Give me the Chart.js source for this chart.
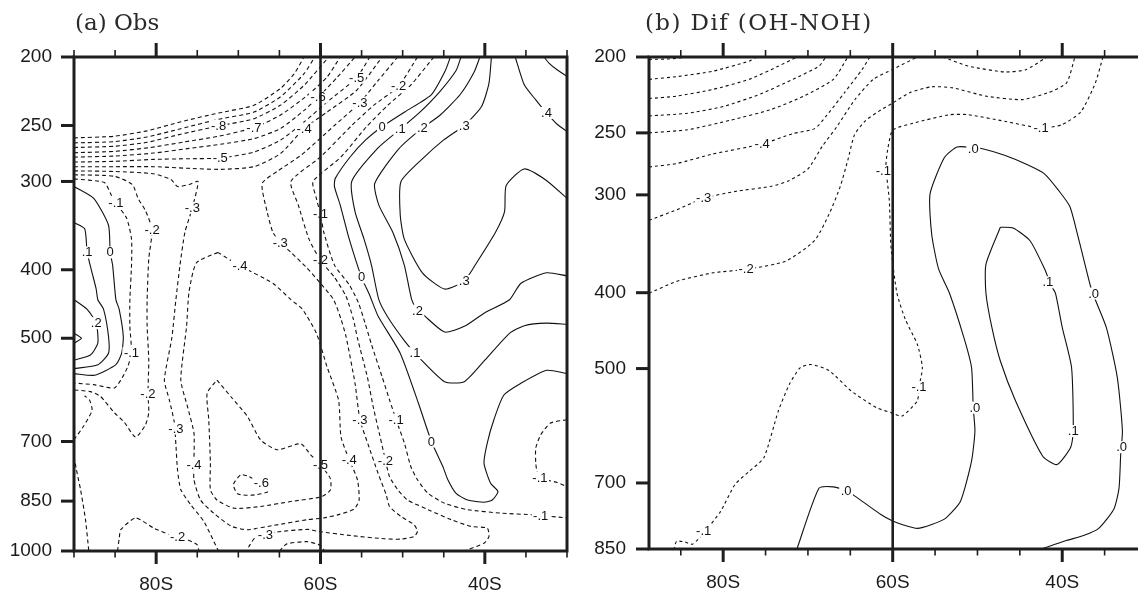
<!DOCTYPE html>
<html lang="en">
<head>
<meta charset="UTF-8">
<title>Zonal mean cross sections</title>
<script src="https://cdn.jsdelivr.net/npm/chart.js"></script>
<style>
  html, body { margin: 0; padding: 0; background: #fff; overflow: hidden; }
  #wrap { position: relative; width: 1138px; height: 594px; overflow: hidden; }
  canvas { position: absolute; top: 0; }
  #obsChart { left: 0; }
  #difChart { left: 580px; }
  .ttl { position: absolute; top: 11px; font-family: 'DejaVu Serif', serif; font-size: 23px; line-height: 23px; color: #2a2a2a; white-space: nowrap; }
</style>
</head>
<body>
<div id="wrap">
  <canvas id="obsChart" width="580" height="594"></canvas>
  <canvas id="difChart" width="580" height="594"></canvas>
  <div class="ttl" style="left:75px;">(a) Obs</div>
  <div class="ttl" style="left:645px; letter-spacing:1.4px;">(b) Dif (OH-NOH)</div>
</div>
<script>
// axis values
const latLabelTicks = [-80, -60, -40];
const obsPressureTicks = [200, 250, 300, 400, 500, 700, 850, 1000];
const difPressureTicks = [200, 250, 300, 400, 500, 700, 850];

// (a) Obs contours, [latitude, hPa]; negative levels dashed
const obsM10 = [[-90,260.3],[-85.1,258.9],[-81.1,254.4],[-77,247],[-72.4,240],[-68.1,234.1],[-64.9,221.7],[-63.2,211.2],[-62,200]];
const obsM09 = [[-90,264.6],[-85.1,263.5],[-81.1,259.5],[-77,252.6],[-72.4,245],[-68.1,239.3],[-64.9,227.8],[-62,211.2],[-60.7,200]];
const obsM08 = [[-90,268.6],[-85.1,267.5],[-81.1,264.1],[-77,257.2],[-72.4,250.4],[-68.1,244.5],[-64.9,234.1],[-62,219.3],[-59,200]];
const obsM07 = [[-90,273.2],[-85.1,272],[-80.7,268.6],[-76.6,263.8],[-72.4,258.9],[-68.1,251.8],[-64.9,241.8],[-61.6,226.6],[-59.2,213.5],[-57.6,200]];
const obsM06 = [[-90,277.1],[-85.1,276.2],[-80.3,273.5],[-76.2,269.6],[-72.2,265.8],[-68.1,260.9],[-64.9,252.6],[-62,238],[-60.3,228.1],[-58,213.9],[-55.8,200]];
const obsM05 = [[-90,281.6],[-85.1,281],[-80.3,279.2],[-76.2,278.6],[-72.2,278],[-68.1,272.6],[-64.9,262.3],[-62,247.2],[-59.2,231.6],[-55.6,213.9],[-54,200]];
const obsM04 = [[-90,285.9],[-85.1,285.9],[-80.3,285.9],[-76.2,287.4],[-72.2,288.4],[-68.1,285.9],[-64.9,274.1],[-62,252.6],[-59.2,239.3],[-55.6,222.9],[-52.5,200]];
const obsM03West = [[-90,289.8],[-85.1,290.4],[-80.3,292.6],[-78.2,298.1],[-77.4,305],[-76,303],[-74.9,300],[-75.6,327],[-76.5,354],[-77.1,394],[-77.6,441],[-78.1,500],[-79,573],[-78.4,611],[-77.8,657],[-77.6,707],[-77.4,768],[-77,819],[-75.8,860],[-74.2,908],[-72.6,990],[-72.4,1000]];
const obsM02West = [[-90,293.5],[-85.1,295],[-82.9,303],[-82.2,317],[-81.3,330],[-80.5,351],[-80.9,386],[-81.1,441],[-81.1,481],[-80.9,537],[-81,600],[-80.9,637],[-81.3,663],[-82.5,690],[-83.9,657],[-85.1,637],[-86.8,604],[-88,595],[-90,591.7]];
const obsM01West = [[-90,297.5],[-86.3,301.1],[-85.5,313],[-84.9,322],[-83.6,338],[-83,362],[-83,394],[-83.2,441],[-83.2,481],[-83,525],[-83.5,550],[-84.3,573],[-85.1,588],[-87.6,581.6],[-90,578.6]];
const obsEdgeLow = [[-90,696],[-88.8,665],[-87.8,632],[-88.1,612],[-88.7,603]];
const obsEdgeBottom = [[-90,735],[-89.7,768],[-89.2,819],[-88.6,903],[-88.2,1000]];
const obsM02Hump = [[-84.7,1000],[-84.5,960],[-84.3,933],[-82.5,898],[-80.3,928],[-78.2,950],[-76.2,964],[-75,980],[-74.8,1000]];
const obsM04Loop = [[-72.5,378],[-69.8,395],[-65.8,418],[-63.6,441],[-62.2,455],[-60.5,492],[-59.2,549],[-57.8,612],[-57.5,690],[-56.5,743],[-55.5,793],[-55.3,847],[-55.9,872],[-57.9,889],[-59.6,898],[-61.6,903],[-65.7,920],[-68.9,933],[-70.9,922],[-73,884],[-74.6,847],[-75.4,793],[-75.4,743],[-75.4,681],[-76.2,624],[-77,573],[-76.3,481],[-76,430],[-75.1,391],[-72.5,378]];
const obsM05Loop = [[-72.6,573],[-70.9,605],[-68.9,645],[-67.3,696],[-65.3,719],[-62.4,705],[-61.2,731],[-60,755],[-58.8,790],[-58.8,820],[-59.9,838],[-63.6,851],[-67.3,865],[-70.5,870],[-72.6,847],[-73.4,819],[-73.4,751],[-73.6,652],[-73.8,598],[-72.6,573]];
const obsM06Loop = [[-68.2,790],[-68.9,783],[-69.7,780],[-70.6,805],[-70.1,830],[-68.5,834],[-66.5,826],[-66.2,815]];
const obsM04Bump = [[-65,1000],[-64.1,977],[-61.6,970],[-60,982],[-59.5,1000]];
const obsM03East = [[-50.6,200],[-53,216],[-55.2,232],[-58.3,250],[-62.3,275],[-65.2,290],[-67.1,302],[-66.5,331],[-65.8,354],[-64.9,366],[-63.6,378],[-61.8,396],[-60,418],[-58.4,441],[-57.5,470],[-56.9,497],[-55.8,579],[-55.2,652],[-54.2,707],[-53,776],[-52,833],[-51.6,865],[-50.2,894],[-48.6,918],[-48.2,938],[-48.6,954],[-50.2,962],[-52.2,961],[-56.3,951],[-60.3,938],[-61.6,932],[-65.3,940],[-67.9,956],[-68.7,985],[-69,1000]];
const obsM02East = [[-48.2,200],[-50.5,220],[-53.5,234],[-56.2,250],[-60,277],[-63.6,300],[-62.7,324],[-61.4,362],[-60,388],[-58.3,410],[-56.9,436],[-56,470],[-55.5,500],[-54.3,567],[-53.6,624],[-52.8,685],[-52.2,735],[-51.6,785],[-50.6,819],[-49.4,847],[-46.9,874],[-44.1,903],[-41.7,923],[-39.7,928],[-39.5,954],[-40.1,975],[-42.1,996],[-42.3,1000]];
const obsM01East = [[-46.2,200],[-49,219],[-51.8,234],[-54.4,251],[-57.5,277],[-60.9,300],[-60.5,317],[-60,334],[-59.6,354],[-58.3,394],[-56.5,420],[-55.4,445],[-54.6,475],[-53.8,510],[-52.5,567],[-51.6,611],[-50.8,652],[-49.8,703],[-49,760],[-48.2,793],[-46.9,829],[-44.9,856],[-42.1,874],[-38,884],[-34,889],[-30,898]];
const obsM01Rim = [[-30,652],[-32,659],[-33.2,685],[-33.8,715],[-33.8,751],[-33.6,776],[-33,790],[-31.2,800],[-30,811]];
const obsZeroWest = [[-90,305],[-87.6,317],[-85.8,346],[-85.6,378],[-85.3,394],[-84.9,441],[-84.5,455],[-84,497],[-84.2,525],[-84.9,545],[-87.5,564],[-90,561]];
const obsP1West = [[-90,343],[-88.7,350],[-88.4,378],[-87.8,404],[-87.3,426],[-87.1,441],[-86.4,455],[-85.8,497],[-85.8,525],[-87.1,545],[-90,552]];
const obsP2West = [[-90,441],[-88.4,455],[-87.3,476],[-87.1,508],[-88,528],[-90,537]];
const obsP3West = [[-90,492],[-89.1,500],[-90,508]];
const obsZeroEast = [[-44.2,200],[-44.8,209],[-46.5,226],[-49.7,239],[-52.5,251],[-54.5,262],[-56.4,277],[-58.2,297],[-58.3,305],[-57.6,324],[-56.5,362],[-55,410],[-54,435],[-53,465],[-50.3,525],[-48.1,617],[-46.5,700],[-45.1,760],[-44.5,793],[-43.5,829],[-42.1,847],[-40.1,853],[-39.1,847],[-38.4,824],[-39.3,802],[-40.1,751],[-39.7,703],[-38.9,652],[-37.7,602],[-35.6,579],[-32.5,555],[-30,561]];
const obsP1East = [[-42.9,200],[-43.5,209],[-45.5,224],[-48,240],[-50.3,253],[-53,269],[-56.2,300],[-55.8,331],[-54.7,362],[-53.8,394],[-52.9,441],[-51.8,467],[-49.8,504],[-48.5,525],[-44.9,576],[-42.5,576],[-40,537],[-37,492],[-35.2,480],[-32.5,476],[-30,478]];
const obsP2East = [[-40.6,200],[-41.3,210],[-43,226],[-45.5,242],[-47.6,252],[-50.5,270],[-53.4,302],[-52.9,324],[-51.2,354],[-49.8,394],[-48.9,441],[-48.2,457],[-47.6,462],[-44.9,490],[-42.5,481],[-40,460],[-37,441],[-35.6,418],[-32.5,404],[-30,408]];
const obsP3East = [[-39.2,200],[-39.5,218],[-40.4,235],[-42.5,250],[-45,262],[-47.5,278],[-50.2,300],[-50.3,334],[-49.8,362],[-47.6,404],[-44.9,426],[-42.5,415],[-41,391],[-38.7,354],[-37.6,331],[-37.4,304],[-35.2,288],[-32.5,299],[-30,317]];
const obsP4East = [[-36.3,200],[-35.2,219],[-33.8,230],[-32.5,240],[-31.2,249],[-30,255]];
const obsP5East = [[-32.8,200],[-32.2,204],[-31.2,208.5],[-30,213]];

const obsLabels = [
  ['-.8',-72.4,250.4],['-.7',-68.1,251.8],['-.4',-62,252.6],['-.5',-72.2,278],['-.6',-60.3,228.1],
  ['-.5',-55.6,213.9],['-.3',-55.2,232],['-.2',-50.5,220],['0',-52.5,251],['.1',-50.3,253],
  ['.2',-47.6,252],['.3',-42.5,250],['.4',-32.5,240],['-.1',-84.9,322],['-.3',-75.6,327],
  ['-.2',-80.5,351],['.1',-88.4,378],['0',-85.6,378],['-.3',-64.9,366],['-.4',-69.8,395],
  ['-.1',-60,334],['-.2',-60,388],['0',-55,410],['.3',-42.5,415],['.2',-87.3,476],
  ['-.1',-83,525],['.2',-48.2,457],['.1',-48.5,525],['-.2',-81,600],['-.3',-77.6,671],
  ['-.4',-75.4,755],['-.6',-67.2,802],['-.5',-60,755],['-.2',-77.4,954],['-.3',-66.7,948],
  ['-.3',-55.2,652],['-.1',-50.8,652],['-.4',-56.5,743],['-.2',-52.1,745],['0',-46.5,700],
  ['-.1',-33.3,788],['-.1',-33.2,891]
];

// (b) Dif (OH-NOH) contours
const difM9 = [[-88.75,201.4],[-86.5,201.2],[-84,200]];
const difM8 = [[-88.75,213.6],[-85.5,211.9],[-81.2,208.5],[-76.9,202.4],[-76,200]];
const difM7 = [[-88.75,226],[-85.5,224.4],[-81.2,220],[-76.9,213.5],[-73.5,205.5],[-71.3,200]];
const difM6 = [[-88.75,237.8],[-84.2,236],[-79.9,231.2],[-75.6,223],[-71.8,213.6],[-68.7,205.5],[-67.9,200]];
const difM5 = [[-88.75,250],[-84.2,247.7],[-79.1,240.8],[-74.3,233.3],[-70.5,224.4],[-67,213.6],[-65.3,200]];
const difM4 = [[-88.75,276.4],[-85.5,273.6],[-81.2,266],[-75.4,258.3],[-71.8,250.6],[-69.2,246.9],[-67.9,238.3],[-65.7,222.2],[-63.6,207.4],[-62.7,200]];
const difM3 = [[-88.75,323.3],[-85.5,313.5],[-82.3,303],[-78.6,297],[-74.3,292.5],[-72.2,287.6],[-70,278],[-68.3,260],[-66.6,245.6],[-64.5,227],[-62.3,213.6],[-60,207.4],[-57.1,200]];
const difM2 = [[-88.75,400.7],[-85.5,386.9],[-81.2,377.3],[-77.3,373.5],[-72.6,364.5],[-69.2,343],[-67.5,317.4],[-66.2,293],[-65.3,271],[-64.5,251.3],[-63.2,241.1],[-61.4,233.7],[-60,229],[-58,222.2],[-55.4,218.3],[-52.9,219],[-49,224.4],[-44.7,226.7],[-41.7,222.2],[-39.5,215.9],[-38.5,200]];
const difM3Dip = [[-54.1,200],[-51.1,205.4],[-46.8,209],[-44.3,207.6],[-42.1,201],[-41.8,200]];
const difM1 = [[-35.2,200],[-36.1,216],[-37.8,235],[-40,244],[-42.5,246.5],[-46.8,241.6],[-51.1,237],[-53.3,237],[-57.6,243],[-60,248],[-60.6,263],[-60.8,276],[-60.4,305],[-60.2,350],[-59.5,400.6],[-58.5,433],[-57.1,465.5],[-56.5,498.5],[-56.9,528],[-57.1,550],[-58.9,575],[-60,570],[-61.9,561],[-64.9,534],[-67.5,503],[-69.6,494],[-70.9,498.5],[-72.2,524],[-73.5,566.7],[-75.2,650],[-76.9,676],[-78.6,703],[-80.3,761],[-82.1,806],[-83.6,838],[-84.6,832],[-85.5,831],[-85.8,850]];
const difZero = [[-71.3,850],[-68.7,711],[-67,708],[-65.5,716],[-64.5,727],[-61.4,768],[-60,783],[-58.9,791],[-57.1,800],[-55.4,791],[-53.7,775.5],[-52,738.6],[-50.7,656.4],[-50.3,600.6],[-50.5,561],[-50.7,498.5],[-51.6,456.6],[-53.3,400.6],[-54.6,372.6],[-55.4,336.8],[-55.6,299.4],[-53.9,268.8],[-52.4,260.6],[-50.5,261],[-49.4,262],[-46.8,267],[-44.3,274],[-42.1,282],[-40.4,296.4],[-39.1,310.5],[-38.2,337],[-37.4,365],[-36.5,398],[-34.8,443],[-33.5,513.5],[-32.9,600.6],[-33.1,643],[-33.3,710.6],[-33.9,755.6],[-35.7,800],[-37.4,816.5],[-39.5,829],[-42.5,850]];
const difP1 = [[-47.3,330],[-45.8,330.6],[-43.8,343.3],[-42.1,372.6],[-41.3,391.9],[-40.8,400.6],[-40,443],[-38.9,498.5],[-38.7,601],[-39,630],[-40.6,663],[-42.3,647],[-45.5,550],[-47.3,489],[-48.3,443],[-49,400.6],[-49,368],[-47.3,330]];

const difLabels = [
  ['-.4',-75.4,258.3],['-.3',-82.3,303],['-.2',-77.3,373.5],['-.1',-42.5,246.5],['-.1',-61.1,280],
  ['.0',-50.5,262],['.1',-41.7,388],['.0',-36.3,401],['.0',-50.3,561],['.1',-38.7,601],
  ['.0',-33,630],['-.1',-56.9,528],['.0',-65.5,716],['-.1',-82.3,806]
];

Chart.defaults.font.family = "'Liberation Sans', Arial, sans-serif";
Chart.defaults.font.size = 19;
Chart.defaults.color = '#1a1a1a';

function contour(points, dashed, dash) {
  return {
    data: points.map(([lon, p]) => ({x: lon, y: p})),
    showLine: true,
    borderColor: '#111',
    borderWidth: 1.1,
    borderDash: dashed ? dash : [],
    pointRadius: 0,
    pointHoverRadius: 0,
    tension: 0.2,
    fill: false
  };
}

// labels, 60S line, box and tick marks
const framePlugin = {
  id: 'frame',
  afterDatasetsDraw(chart, args, o) {
    const {ctx, chartArea: a, scales: {x, y}} = chart;
    ctx.save();
    ctx.font = "13px 'Liberation Sans', Arial, sans-serif";
    ctx.textAlign = 'center';
    ctx.textBaseline = 'middle';
    o.labels.forEach(([t, lon, p]) => {
      const px = x.getPixelForValue(lon), py = y.getPixelForValue(p);
      const w = ctx.measureText(t).width + 3;
      ctx.fillStyle = '#fff';
      ctx.fillRect(px - w / 2, py - 6, w, 12);
      ctx.fillStyle = '#111';
      ctx.fillText(t, px, py + 0.5);
    });

    ctx.strokeStyle = '#1e1e1e';
    ctx.lineWidth = 2.6;
    const x60 = x.getPixelForValue(-60);
    ctx.beginPath();
    ctx.moveTo(x60, a.top);
    ctx.lineTo(x60, a.bottom);
    ctx.stroke();

    for (let v = o.firstTick; v <= x.max + 1e-6; v += 5) {
      const px = x.getPixelForValue(v);
      const major = latLabelTicks.includes(v);
      ctx.lineWidth = major ? 3 : 1.6;
      ctx.beginPath();
      ctx.moveTo(px, a.bottom); ctx.lineTo(px, a.bottom + (major ? 13 : 6.5));
      ctx.moveTo(px, a.top); ctx.lineTo(px, a.top - (major ? 14 : 7));
      ctx.stroke();
    }
    ctx.lineWidth = 3;
    y.ticks.forEach(t => {
      const py = y.getPixelForValue(t.value);
      ctx.beginPath();
      ctx.moveTo(a.left - 13, py);
      ctx.lineTo(a.left, py);
      ctx.stroke();
    });
    ctx.strokeRect(a.left, a.top, a.right - a.left, a.bottom - a.top);
    ctx.restore();
  }
};

function makePanel(id, lines, labels, cfg) {
  return new Chart(document.getElementById(id), {
    type: 'scatter',
    data: { datasets: lines.map(([pts, dashed]) => contour(pts, dashed, cfg.dash)) },
    plugins: [framePlugin],
    options: {
      responsive: false,
      animation: false,
      devicePixelRatio: 1,
      events: [],
      layout: { padding: { top: 57, right: 13, left: 0, bottom: 0 } },
      plugins: {
        legend: { display: false },
        tooltip: { enabled: false },
        frame: { labels: labels, firstTick: cfg.firstTick }
      },
      scales: {
        x: {
          type: 'linear', min: cfg.xMin, max: -30,
          grid: { display: false, drawTicks: false },
          border: { display: false },
          afterBuildTicks: s => { s.ticks = latLabelTicks.map(v => ({value: v})); },
          afterFit: s => { s.height = cfg.xAxisHeight; },
          ticks: { padding: 22, maxRotation: 0, autoSkip: false, callback: v => Math.abs(v) + 'S' }
        },
        y: {
          type: 'logarithmic', reverse: true, min: 200, max: cfg.pMax,
          grid: { display: false, drawTicks: false },
          border: { display: false },
          afterBuildTicks: s => { s.ticks = cfg.pTicks.map(v => ({value: v})); },
          afterFit: s => { s.width = cfg.yAxisWidth; },
          ticks: { padding: cfg.yPad, autoSkip: false, callback: v => String(v) }
        }
      }
    }
  });
}

makePanel('obsChart', [
  [obsM10, true], [obsM09, true], [obsM08, true], [obsM07, true], [obsM06, true], [obsM05, true], [obsM04, true],
  [obsM03West, true], [obsM02West, true], [obsM01West, true], [obsEdgeLow, true], [obsEdgeBottom, true],
  [obsM02Hump, true], [obsM04Loop, true], [obsM05Loop, true], [obsM06Loop, true], [obsM04Bump, true],
  [obsM03East, true], [obsM02East, true], [obsM01East, true], [obsM01Rim, true],
  [obsZeroWest, false], [obsP1West, false], [obsP2West, false], [obsP3West, false],
  [obsZeroEast, false], [obsP1East, false], [obsP2East, false], [obsP3East, false], [obsP4East, false], [obsP5East, false]
], obsLabels, { xMin: -90, firstTick: -90, pMax: 1000, pTicks: obsPressureTicks, xAxisHeight: 43, yAxisWidth: 74, yPad: 22, dash: [4, 3] });

makePanel('difChart', [
  [difM9, true], [difM8, true], [difM7, true], [difM6, true], [difM5, true], [difM4, true], [difM3, true],
  [difM2, true], [difM3Dip, true], [difM1, true], [difZero, false], [difP1, false]
], difLabels, { xMin: -88.75, firstTick: -85, pMax: 850, pTicks: difPressureTicks, xAxisHeight: 45, yAxisWidth: 69, yPad: 23, dash: [3, 3] });
</script>
</body>
</html>
